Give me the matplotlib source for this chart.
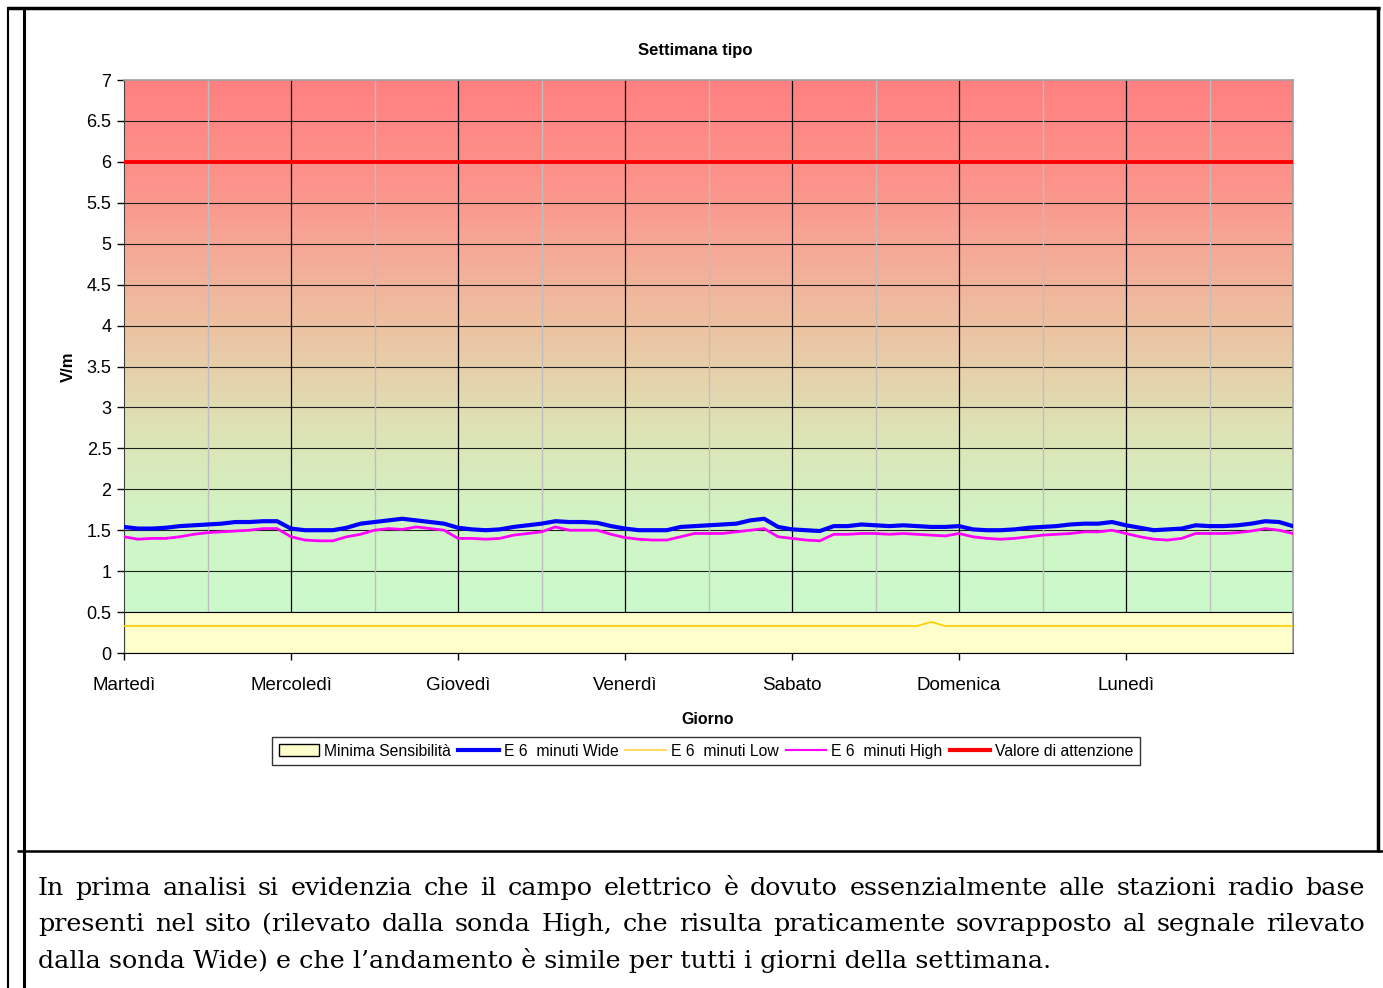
import numpy as np
import matplotlib
matplotlib.use("Agg")
import matplotlib.pyplot as plt
from matplotlib.colors import LinearSegmentedColormap
from matplotlib.lines import Line2D
from matplotlib.patches import Patch

# --- data -----------------------------------------------------------------
days = ["Martedì", "Mercoledì", "Giovedì", "Venerdì", "Sabato", "Domenica", "Lunedì"]
hours = np.arange(0, 170, 2)  # 2-hour samples over the week

wide = [
    1.54, 1.52, 1.52, 1.53, 1.55, 1.56, 1.57, 1.58, 1.60, 1.60, 1.61, 1.61,
    1.52, 1.50, 1.50, 1.50, 1.53, 1.58, 1.60, 1.62, 1.64, 1.62, 1.60, 1.58,
    1.53, 1.51, 1.50, 1.51, 1.54, 1.56, 1.58, 1.61, 1.60, 1.60, 1.59, 1.55,
    1.52, 1.50, 1.50, 1.50, 1.54, 1.55, 1.56, 1.57, 1.58, 1.62, 1.64, 1.54,
    1.51, 1.50, 1.49, 1.55, 1.55, 1.57, 1.56, 1.55, 1.56, 1.55, 1.54, 1.54,
    1.55, 1.51, 1.50, 1.50, 1.51, 1.53, 1.54, 1.55, 1.57, 1.58, 1.58, 1.60,
    1.56, 1.53, 1.50, 1.51, 1.52, 1.56, 1.55, 1.55, 1.56, 1.58, 1.61, 1.60, 1.55,
]
high = [
    1.42, 1.39, 1.40, 1.40, 1.42, 1.45, 1.47, 1.48, 1.49, 1.50, 1.52, 1.52,
    1.42, 1.38, 1.37, 1.37, 1.42, 1.45, 1.50, 1.52, 1.51, 1.54, 1.52, 1.50,
    1.40, 1.40, 1.39, 1.40, 1.44, 1.46, 1.48, 1.54, 1.50, 1.50, 1.50, 1.45,
    1.41, 1.39, 1.38, 1.38, 1.42, 1.46, 1.46, 1.46, 1.48, 1.50, 1.52, 1.42,
    1.40, 1.38, 1.37, 1.45, 1.45, 1.46, 1.46, 1.45, 1.46, 1.45, 1.44, 1.43,
    1.46, 1.42, 1.40, 1.39, 1.40, 1.42, 1.44, 1.45, 1.46, 1.48, 1.48, 1.50,
    1.46, 1.42, 1.39, 1.38, 1.40, 1.46, 1.46, 1.46, 1.47, 1.49, 1.52, 1.50, 1.46,
]
low = (
    [0.33] * 12 + [0.33] * 12 + [0.33] * 12 + [0.33] * 12
    + [0.33] * 10 + [0.38, 0.33]
    + [0.33] * 12 + [0.33] * 13
)
min_sens = [0.5] * len(hours)
attenzione = [6.0] * len(hours)

y_ticks = [0, 0.5, 1, 1.5, 2, 2.5, 3, 3.5, 4, 4.5, 5, 5.5, 6, 6.5, 7]

text_lines = [
    "In prima analisi si evidenzia che il campo elettrico è dovuto essenzialmente alle stazioni radio base",
    "presenti nel sito (rilevato dalla sonda High, che risulta praticamente sovrapposto al segnale rilevato",
    "dalla sonda Wide) e che l\u2019andamento è simile per tutti i giorni della settimana.",
]

# --- figure ---------------------------------------------------------------
W, H = 1383, 988
fig = plt.figure(figsize=(W / 100, H / 100), dpi=100)
sans = ["Liberation Sans", "DejaVu Sans"]

def fx(px):
    return px / W

def fy(py):
    return 1 - py / H

# page frame
lk = dict(transform=fig.transFigure, color="black", solid_capstyle="butt")
fig.add_artist(Line2D([fx(8), fx(8)], [fy(7), fy(988)], lw=1.5, **lk))
fig.add_artist(Line2D([fx(24), fx(24)], [fy(8), fy(988)], lw=2.2, **lk))
fig.add_artist(Line2D([fx(7), fx(1380)], [fy(8), fy(8)], lw=2.5, **lk))
fig.add_artist(Line2D([fx(1378), fx(1378)], [fy(7), fy(852)], lw=2.5, **lk))
fig.add_artist(Line2D([fx(17), fx(1383)], [fy(851), fy(851)], lw=1.8, **lk))

ax = fig.add_axes([fx(124), fy(653), fx(1293 - 124), (653 - 80) / H])

# gradient background of the plot area
cmap = LinearSegmentedColormap.from_list("bg", [
    (0.0, "#CCFACC"), (0.15, "#D0F6C6"), (0.35, "#DEE2B4"),
    (0.55, "#EEBFA0"), (0.8, "#FC948C"), (1.0, "#FF8080")])
grad = np.linspace(0, 1, 256).reshape(-1, 1)
ax.imshow(grad, extent=[0, 168, 0.5, 7], origin="lower", aspect="auto",
          cmap=cmap, zorder=0, interpolation="bicubic")

# gridlines
for v in y_ticks[1:-1]:
    ax.axhline(v, color="#202020", lw=0.8, zorder=1)
ax.vlines(np.arange(12, 168, 24), 0.5, 7, color="#BEBEBE", lw=1.0, zorder=1)
ax.vlines(np.arange(24, 168, 24), 0.5, 7, color="black", lw=0.9, zorder=1)

# series
ax.fill_between(hours, 0, min_sens, facecolor="#FFFFCC", edgecolor="black",
                lw=0.8, zorder=2)
ax.plot(hours, low, color="#FFCC00", lw=1.2, zorder=3)
ax.plot(hours, high, color="#FF00FF", lw=2.0, zorder=4)
ax.plot(hours, wide, color="#0000FF", lw=3.0, zorder=5)
ax.plot(hours, attenzione, color="#FF0000", lw=2.8, zorder=6)

ax.set_xlim(0, 168)
ax.set_ylim(0, 7)
ax.set_yticks(y_ticks)
ax.set_yticklabels([f"{v:g}" for v in y_ticks], fontsize=13, family=sans)
ax.set_xticks(np.arange(0, 168, 24))
ax.set_xticklabels(days, fontsize=13.5, family=sans)
ax.tick_params(axis="both", direction="out", length=5, width=1, color="black")
ax.tick_params(axis="x", pad=12)
ax.tick_params(axis="y", pad=4)
for side in ["top", "right"]:
    ax.spines[side].set_color("#A0A0A0")
    ax.spines[side].set_linewidth(1.2)
ax.spines["left"].set_color("#404040")
ax.spines["bottom"].set_color("black")

fig.text(fx(695), fy(50), "Settimana tipo", ha="center", va="center",
         fontsize=12, fontweight="bold", family=sans)
fig.text(fx(68), fy(367), "V/m", ha="center", va="center", rotation=90,
         fontsize=12, fontweight="bold", family=sans)
fig.text(fx(708), fy(719), "Giorno", ha="center", va="center",
         fontsize=11.5, fontweight="bold", family=sans)

handles = [
    Patch(facecolor="#FFFFCC", edgecolor="black", lw=1),
    Line2D([], [], color="#0000FF", lw=3),
    Line2D([], [], color="#FFD966", lw=1.5),
    Line2D([], [], color="#FF00FF", lw=1.5),
    Line2D([], [], color="#FF0000", lw=3),
]
labels = ["Minima Sensibilità", "E 6  minuti Wide", "E 6  minuti Low",
          "E 6  minuti High", "Valore di attenzione"]
leg = fig.legend(handles, labels, loc="center", bbox_to_anchor=(fx(706), fy(751)),
                 ncol=5, frameon=True, fancybox=False, edgecolor="black",
                 prop={"family": sans, "size": 11.3}, handlelength=2.6,
                 handleheight=0.8, handletextpad=0.3, columnspacing=0.45,
                 borderpad=0.4, borderaxespad=0)
leg.get_frame().set_linewidth(1.0)

# justified paragraph under the chart
serif = ["DejaVu Serif"]
left_px, right_px = 38, 1365
base_px = [895, 931, 968]
fig.canvas.draw()
renderer = fig.canvas.get_renderer()
for i, line in enumerate(text_lines):
    words = line.split(" ")
    if i < len(text_lines) - 1:
        arts = [fig.text(0, fy(base_px[i]), w, fontsize=18.3, family=serif,
                         va="baseline") for w in words]
        widths = [a.get_window_extent(renderer).width for a in arts]
        gap = (right_px - left_px - sum(widths)) / (len(words) - 1)
        x = left_px
        for a, wdt in zip(arts, widths):
            a.set_x(fx(x))
            x += wdt + gap
    else:
        fig.text(fx(left_px), fy(base_px[i]), line, fontsize=18.3, family=serif,
                 va="baseline")

plt.savefig("out.png", dpi=100)
